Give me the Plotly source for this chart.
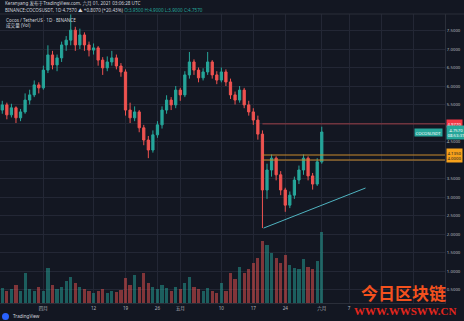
import plotly.graph_objects as go
import pandas as pd

# ---------------- data ----------------
start_date = "2021-03-23"
n_days = 71
dates = pd.date_range(start_date, periods=n_days, freq="D")

open_ = [5.35, 5.49, 5.22, 5.41, 5.14, 5.30, 5.62, 5.76, 6.03, 5.95,
         6.43, 6.84, 6.57, 6.76, 7.11, 7.24, 7.51, 7.11, 7.38, 7.11,
         6.97, 7.03, 6.70, 6.49, 6.65, 6.76, 6.54, 6.38, 5.35, 5.14,
         5.30, 4.87, 4.54, 4.27, 4.68, 4.95, 5.35, 5.62, 5.49, 5.89,
         5.76, 6.30, 6.65, 6.43, 6.22, 6.38, 6.65, 6.30, 6.16, 6.38,
         6.11, 5.76, 5.62, 5.89, 5.49, 5.30, 5.08, 4.70, 3.19, 3.73,
         4.05, 3.60, 3.19, 2.78, 3.05, 3.46, 3.73, 4.05, 3.57, 3.35,
         3.95]
high = [5.60, 5.55, 5.52, 5.45, 5.38, 5.80, 5.90, 6.15, 6.10, 6.55,
        7.10, 6.95, 6.85, 7.20, 7.35, 7.97, 7.60, 7.55, 7.45, 7.20,
        7.15, 7.08, 6.78, 6.80, 6.95, 6.85, 6.62, 6.45, 5.55, 5.45,
        5.35, 4.95, 4.65, 4.80, 5.05, 5.45, 5.75, 5.70, 6.00, 5.95,
        6.40, 6.92, 6.72, 6.50, 6.48, 6.92, 6.70, 6.40, 6.50, 6.45,
        6.20, 5.85, 6.00, 5.95, 5.60, 5.40, 5.20, 4.80, 3.90, 4.15,
        4.10, 3.70, 3.25, 3.15, 3.55, 3.85, 4.15, 4.10, 3.65, 4.05,
        4.90]
low = [5.25, 5.10, 5.15, 5.00, 5.05, 5.25, 5.50, 5.70, 5.80, 5.90,
       6.35, 6.45, 6.40, 6.65, 6.95, 7.10, 6.95, 7.00, 6.95, 6.80,
       6.85, 6.55, 6.30, 6.40, 6.55, 6.45, 6.25, 5.20, 5.00, 5.05,
       4.75, 4.40, 4.05, 4.20, 4.60, 4.85, 5.25, 5.35, 5.40, 5.60,
       5.70, 6.20, 6.30, 6.10, 6.15, 6.30, 6.20, 6.05, 6.10, 6.00,
       5.65, 5.50, 5.55, 5.40, 5.20, 4.95, 4.55, 2.16, 2.95, 3.55,
       3.45, 3.05, 2.60, 2.70, 2.95, 3.35, 3.60, 3.45, 3.20, 3.30,
       3.90]
close = [5.49, 5.22, 5.41, 5.14, 5.30, 5.62, 5.76, 6.03, 5.95, 6.43,
         6.84, 6.57, 6.76, 7.11, 7.24, 7.51, 7.11, 7.38, 7.11, 6.97,
         7.03, 6.70, 6.49, 6.65, 6.76, 6.54, 6.38, 5.35, 5.14, 5.30,
         4.87, 4.54, 4.27, 4.68, 4.95, 5.35, 5.62, 5.49, 5.89, 5.76,
         6.30, 6.65, 6.43, 6.22, 6.38, 6.65, 6.30, 6.16, 6.38, 6.11,
         5.76, 5.62, 5.89, 5.49, 5.30, 5.08, 4.70, 3.19, 3.73, 4.05,
         3.60, 3.19, 2.78, 3.05, 3.46, 3.73, 4.05, 3.57, 3.35, 3.95,
         4.757]
volume_m = [7.5, 6, 7, 9, 6, 15, 7, 6, 8, 6,
            17.5, 9, 7, 8, 11, 13, 10, 8, 7, 6,
            5, 6, 7, 5, 6, 5.5, 6.5, 12.5, 9, 14,
            8, 15, 10, 8, 7, 9, 7.5, 6, 8, 7,
            10, 13, 8, 7, 6, 7.5, 6, 5, 10, 6,
            15, 12, 18, 15, 17, 20, 22.5, 31, 29, 25,
            22.5, 20, 24, 19, 17.5, 17, 22, 18, 17, 21,
            35.5]

price_ticks = [0.5, 1.0, 1.5, 2.0, 2.5, 3.0, 3.5, 4.0, 4.5, 5.0, 5.5, 6.0, 6.5, 7.0, 7.5]
time_tick_dates = ["2021-04-01", "2021-04-12", "2021-04-19", "2021-04-26", "2021-05-01",
                   "2021-05-10", "2021-05-17", "2021-05-24", "2021-06-01", "2021-06-07",
                   "2021-06-14", "2021-06-21"]
# the last two labels are hidden under the watermark in the reference
time_tick_labels = ["四月", "12", "19", "26", "五月", "10", "17", "24", "六月", "7", "", ""]

red_level = 4.977
orange_levels = [4.135, 4.0]
level_start = "2021-05-19"
trend_x = ["2021-05-19 06:00", "2021-06-10 14:00"]
trend_y = [2.16, 3.243]
last_price = close[-1]

# ---------------- styling ----------------
BG = "#131722"
GRID = "#232735"
TXT = "#b2b5be"
UP = "#26a69a"
DN = "#ef5350"
FONT = "Noto Sans, Noto Sans CJK SC, sans-serif"

W, H = 464, 321
ML, MR, MT, MB = 0, 19, 14, 18
PW, PH = W - ML - MR, H - MT - MB


def P(x, y):
    return (x - ML) / PW, (H - MB - y) / PH


vol_colors = ["rgba(38,166,154,0.5)" if c >= o else "rgba(239,83,80,0.5)"
              for o, c in zip(open_, close)]

fig = go.Figure()
fig.add_trace(go.Bar(x=dates, y=volume_m, marker_color=vol_colors, marker_line_width=0,
                     width=0.7 * 86400000, yaxis="y2", showlegend=False, hoverinfo="skip"))
fig.add_trace(go.Candlestick(
    x=dates, open=open_, high=high, low=low, close=close,
    increasing=dict(line=dict(color=UP, width=1), fillcolor=UP),
    decreasing=dict(line=dict(color=DN, width=1), fillcolor=DN),
    whiskerwidth=0, showlegend=False, yaxis="y"))

shapes = []
shapes.append(dict(type="line", xref="x", yref="y", x0=trend_x[0], y0=trend_y[0],
                   x1=trend_x[1], y1=trend_y[1], line=dict(color="#4fb3c0", width=1)))
shapes.append(dict(type="line", xref="x", yref="y", x0=level_start, x1="2021-06-28",
                   y0=red_level, y1=red_level, line=dict(color="#9c3d45", width=1)))
for lv in orange_levels:
    shapes.append(dict(type="line", xref="x", yref="y", x0=level_start, x1="2021-06-28",
                       y0=lv, y1=lv, line=dict(color="#c98a2a", width=1)))
x0p, _ = P(0, 0)
x1p, _ = P(W, 0)
shapes.append(dict(type="line", xref="paper", yref="paper", x0=x0p, x1=x1p, y0=1.0, y1=1.0,
                   line=dict(color="#2a2e39", width=1)))
cx0, cy0 = P(2, 313)
cx1, cy1 = P(9, 320)
shapes.append(dict(type="circle", xref="paper", yref="paper", x0=cx0, y0=cy1, x1=cx1, y1=cy0,
                   fillcolor="#2962ff", line=dict(width=0)))

ann = []


def text(x, y, s, size=5, color=TXT, anchor="left", family=FONT, **kw):
    px, py = P(x, y)
    ann.append(dict(xref="paper", yref="paper", x=px, y=py, text=s, showarrow=False,
                    xanchor=anchor, yanchor="middle", font=dict(size=size, color=color, family=family),
                    **kw))


text(3, 4, "Keranyang 发布于TradingView.com, 六月 01, 2021 03:06:28 UTC", size=4.6, color="#d1d4dc")
chg = last_price - open_[-1]
pct = chg / open_[-1] * 100
text(3, 10, "BINANCE:COCOSUSDT, 1D %.4f ▲ +%.4f (+%.2f%%) "
     "<span style='color:%s'>O:%.4f H:%.4f L:%.4f C:%.4f</span>"
     % (last_price, chg, pct, UP, open_[-1], high[-1], low[-1], close[-1]),
     size=4.6, color="#d1d4dc")
text(4, 20, "Cocos / TetherUS · 1D · BINANCE", size=4.6, color="#d1d4dc")
text(4, 26, "成交量 (Vol)", size=4.6, color="#d1d4dc")
text(11, 316, "TradingView", size=4.6, color="#d1d4dc")


def axis_label(price, s, bg, fcolor="#ffffff", x=446):
    px, _ = P(x, 0)
    ann.append(dict(xref="paper", yref="y", x=px, y=price, text=s, showarrow=False,
                    xanchor="left", yanchor="middle", bgcolor=bg, borderpad=0.5,
                    font=dict(size=4.3, color=fcolor, family=FONT)))


axis_label(red_level, "%.4f" % red_level, "#f23645")
axis_label(last_price, "%.4f<br>08:53:31" % last_price, UP)
axis_label(orange_levels[0], "%.4f<br>%.4f" % (orange_levels[0], orange_levels[1]), "#f7a21b", fcolor="#131722")
px, _ = P(443, 0)
ann.append(dict(xref="paper", yref="y", x=px, y=last_price, text="COCOSUSDT", showarrow=False,
                xanchor="right", yanchor="middle", bgcolor=UP, borderpad=0.5,
                font=dict(size=4.3, color="#ffffff", family=FONT)))

text(403, 292, "<b>今日区块链</b>", size=17, color="#f4511e", anchor="center",
     family="Noto Sans CJK SC")
text(405, 311, "<b>WWW.WWSWW.CN</b>", size=11, color="#e5261d", anchor="center",
     family="Liberation Serif")

top_price = last_price + (132 - MT) / 37
bot_price = last_price - (H - MB - 132) / 37

fig.update_layout(
    width=W, height=H, margin=dict(l=ML, r=MR, t=MT, b=MB),
    paper_bgcolor=BG, plot_bgcolor=BG,
    font=dict(family=FONT, color=TXT, size=5),
    showlegend=False, shapes=shapes, annotations=ann,
    xaxis=dict(type="date", range=["2021-03-22 12:00", "2021-06-28"],
               tickvals=time_tick_dates, ticktext=time_tick_labels,
               showgrid=True, gridcolor=GRID, gridwidth=1, zeroline=False,
               showline=True, linecolor="#2a2e39", ticks="", ticklen=0,
               tickfont=dict(size=4.6, color=TXT), rangeslider=dict(visible=False)),
    yaxis=dict(range=[bot_price, top_price], side="right",
               tickvals=price_ticks, ticktext=["%.4f" % v for v in price_ticks],
               showgrid=True, gridcolor=GRID, zeroline=False,
               showline=True, linecolor="#2a2e39", ticks="", ticklen=0,
               tickfont=dict(size=4.3, color=TXT)),
    yaxis2=dict(overlaying="y", range=[0, PH / 2], visible=False),
    bargap=0,
)

fig.write_html("out.html")
